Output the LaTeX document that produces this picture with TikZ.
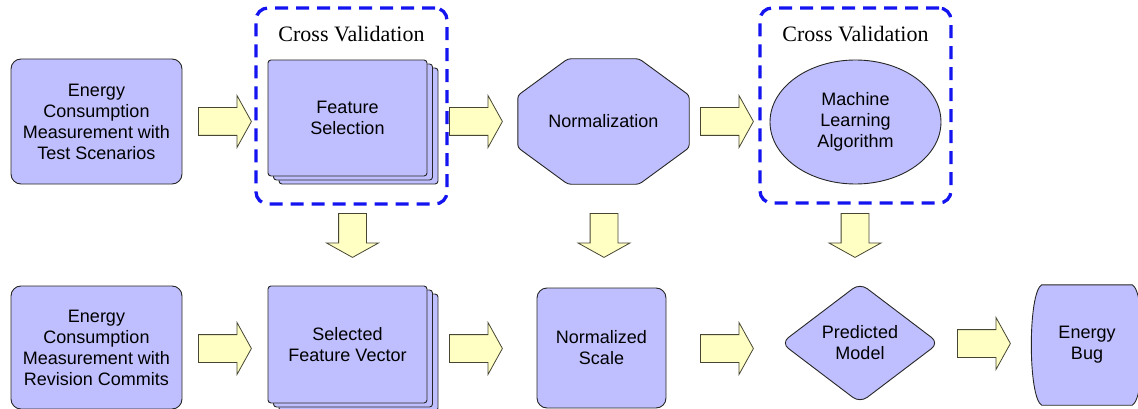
\documentclass[tikz,border=0pt]{standalone}
\usepackage{fontspec}
\setsansfont{Liberation Sans}
\newfontfamily\labelfont{Liberation Serif}
\usetikzlibrary{shapes.geometric,shapes.arrows,shadows,positioning,backgrounds}
\definecolor{boxfill}{RGB}{191,191,255}
\definecolor{arrowfill}{RGB}{255,255,196}
\definecolor{arrowline}{RGB}{70,70,50}
\definecolor{cvblue}{RGB}{20,20,240}

\tikzset{
  boxtext/.style={font=\sffamily\fontsize{18}{21}\selectfont, align=center, inner sep=0pt},
  stagefill/.style={draw=black!85, line width=0.9pt, fill=boxfill},
  stagebox/.style={boxtext, stagefill},
  roundbox/.style={stagebox, rectangle, rounded corners=10pt},
  stackbox/.style={stagebox, rectangle, rounded corners=3pt,
    minimum width=159pt, minimum height=116pt,
    general shadow={shadow xshift=11pt, shadow yshift=-8pt, fill=boxfill, draw=black!85},
    general shadow={shadow xshift=5.5pt, shadow yshift=-4pt, fill=boxfill, draw=black!85}},
  cvbox/.style={draw=cvblue, line width=3.3pt, dash pattern=on 13pt off 8pt,
    rounded corners=12pt, minimum width=191pt, minimum height=196pt, inner sep=0pt},
  cvlabel/.style={font=\labelfont\fontsize{22}{26}\selectfont, inner sep=0pt},
  fatarrow/.style={single arrow, draw=arrowline, fill=arrowfill, line width=0.8pt,
    inner sep=13.5pt, minimum width=51pt, single arrow head extend=12pt,
    single arrow tip angle=122, anchor=tail},
  rarrow/.style={fatarrow, minimum height=53pt},
  darrow/.style={fatarrow, minimum height=44pt, shape border rotate=270},
}

\begin{document}
\begin{tikzpicture}[x=1pt,y=-1pt]
  \useasboundingbox (0,0) rectangle (1138,409);

  % upper row: building the model
  \node[roundbox, minimum width=171pt, minimum height=125pt] (meastest) at (96.5,121.5)
    {Energy\\Consumption\\Measurement with\\Test Scenarios};
  \node[stackbox] (featsel) at (347.5,118) {Feature\\Selection};
  \node[cvbox] (cvsel) at (351.5,106) {};
  \node[cvlabel, below=20pt of cvsel.north] (cvsellbl) {Cross Validation};
  \node[boxtext, minimum width=171pt, minimum height=125pt] (norm) at (603.5,121.5) {Normalization};
  \node[stagebox, ellipse, minimum width=171pt, minimum height=124pt] (mlalg) at (855.5,122)
    {Machine\\Learning\\Algorithm};
  \node[cvbox, minimum height=195pt] (cvml) at (855.5,105.5) {};
  \node[cvlabel, below=20pt of cvml.north] (cvmllbl) {Cross Validation};

  % lower row: applying it to commits
  \node[roundbox, minimum width=171pt, minimum height=123pt] (measrev) at (96.5,347.5)
    {Energy\\Consumption\\Measurement with\\Revision Commits};
  \node[stackbox, minimum height=117pt] (featvec) at (347.5,344.5) {Selected\\Feature Vector};
  \node[roundbox, minimum width=129pt, minimum height=120pt] (normscale) at (601.5,348)
    {Normalized\\Scale};
  \node[stagebox, diamond, aspect=1.32, rounded corners=9pt, minimum width=158pt,
    minimum height=120pt] (predmodel) at (860,343) {Predicted\\Model};
  \node[boxtext, minimum width=90pt, minimum height=120pt] (bug) at (1087,345) {Energy\\Bug};

  % octagon and bulged box behind their text
  \begin{scope}[on background layer]
    \draw[stagefill, rounded corners=3pt]
      ([xshift=50pt]norm.north west) -- ([xshift=-50pt]norm.north east)
      -- ([yshift=-36.6pt]norm.north east) -- ([yshift=36.6pt]norm.south east)
      -- ([xshift=-50pt]norm.south east) -- ([xshift=50pt]norm.south west)
      -- ([yshift=36.6pt]norm.south west) -- ([yshift=-36.6pt]norm.north west) -- cycle;
    \draw[stagefill]
      (bug.north west) -- (bug.north east)
      .. controls ([xshift=14pt,yshift=-7pt]bug.north east) and ([xshift=14pt,yshift=7pt]bug.south east) .. (bug.south east)
      -- (bug.south west)
      .. controls ([xshift=-14pt,yshift=7pt]bug.south west) and ([xshift=-14pt,yshift=-7pt]bug.north west) .. (bug.north west)
      -- cycle;
  \end{scope}

  % block arrows, placed by their tails
  \node[rarrow] (ar1) at (198,121.5) {};
  \node[rarrow] (ar2) at (449,121.5) {};
  \node[rarrow] (ar3) at (700,121.5) {};
  \node[darrow] (dn1) at (352.5,213) {};
  \node[darrow] (dn2) at (604,213) {};
  \node[darrow] (dn3) at (855,213) {};
  \node[rarrow] (ar4) at (198,348.5) {};
  \node[rarrow] (ar5) at (449,348.5) {};
  \node[rarrow] (ar6) at (700,348.5) {};
  \node[rarrow] (ar7) at (957,343.5) {};
\end{tikzpicture}
\end{document}
